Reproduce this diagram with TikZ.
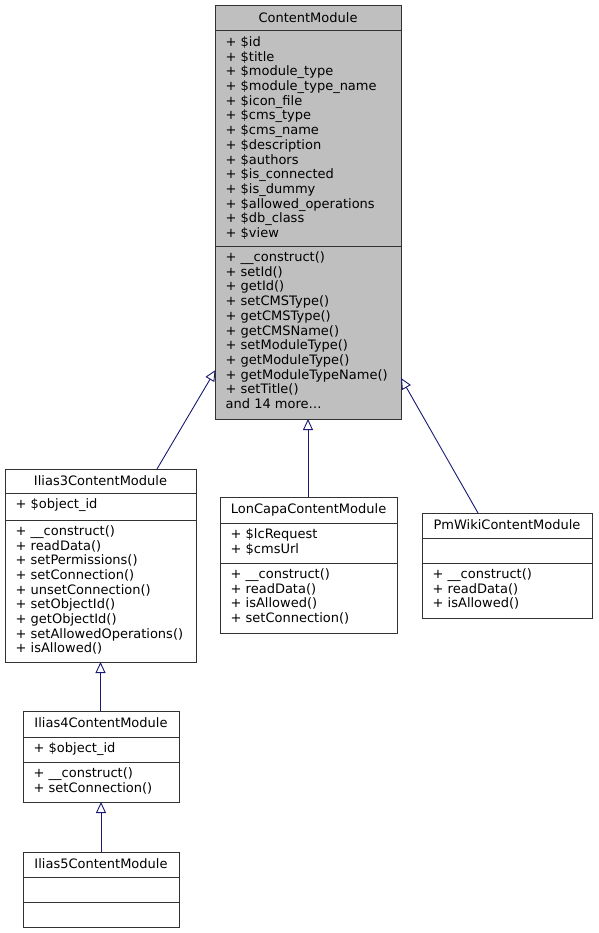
\documentclass[tikz,border=0pt]{standalone}
\usepackage{fontspec}
\setmainfont{DejaVu Sans}
\usetikzlibrary{arrows.meta,calc}
\definecolor{edgeblue}{RGB}{25,25,112}
\definecolor{boxgray}{RGB}{191,191,191}
\definecolor{boxline}{RGB}{50,50,50}
\newcommand\umlmembers[4]{%
  \foreach \t [count=\i from 0] in {#4} {\node[mem] (#1\i) at (#2,{#3+\i*14.7}) {\t};}}
\begin{document}
\begin{tikzpicture}[x=1pt,y=-1pt,
  cls/.style={draw=boxline, line width=1pt, fill=white, anchor=north west, inner sep=0pt, outer sep=0pt},
  div/.style={draw=boxline, line width=1pt},
  ttl/.style={anchor=base, inner sep=0pt, font=\fontsize{13}{14.7}\selectfont},
  mem/.style={anchor=base west, inner sep=0pt, font=\fontsize{13}{14.7}\selectfont},
  inh/.style={draw=edgeblue, line width=0.9pt, -{Triangle[open,length=11pt,width=10pt]}}]
\useasboundingbox (0,0) rectangle (598,933);

% ContentModule
\node[cls, fill=boxgray, minimum width=186pt, minimum height=413pt] (cm) at (215,6) {};
\draw[div] (cm.west |- 0,31) -- (cm.east |- 0,31);
\draw[div] (cm.west |- 0,246) -- (cm.east |- 0,246);
\node[ttl] (cmt) at (308,22.5) {ContentModule};
\umlmembers{cma}{225.5}{46.5}{+ \$id,+ \$title,+ \$module\_type,+ \$module\_type\_name,+ \$icon\_file,+ \$cms\_type,+ \$cms\_name,+ \$description,+ \$authors,+ \$is\_connected,+ \$is\_dummy,+ \$allowed\_operations,+ \$db\_class,+ \$view}
\umlmembers{cmm}{225.5}{261.5}{+ \_\_construct(),+ setId(),+ getId(),+ setCMSType(),+ getCMSType(),+ getCMSName(),+ setModuleType(),+ getModuleType(),+ getModuleTypeName(),+ setTitle(),{and 14 more\ldots}}

% Ilias3ContentModule
\node[cls, minimum width=191pt, minimum height=193pt] (il3) at (5,469) {};
\draw[div] (il3.west |- 0,493) -- (il3.east |- 0,493);
\draw[div] (il3.west |- 0,520) -- (il3.east |- 0,520);
\node[ttl] (il3t) at (100.5,485.5) {Ilias3ContentModule};
\umlmembers{il3a}{15.5}{508.5}{+ \$object\_id}
\umlmembers{il3m}{15.5}{535.3}{+ \_\_construct(),+ readData(),+ setPermissions(),+ setConnection(),+ unsetConnection(),+ setObjectId(),+ getObjectId(),+ setAllowedOperations(),+ isAllowed()}

% LonCapaContentModule
\node[cls, minimum width=177pt, minimum height=136pt] (lc) at (220,497) {};
\draw[div] (lc.west |- 0,523) -- (lc.east |- 0,523);
\draw[div] (lc.west |- 0,563) -- (lc.east |- 0,563);
\node[ttl] (lct) at (308.5,513.5) {LonCapaContentModule};
\umlmembers{lca}{230.5}{538.3}{+ \$lcRequest,+ \$cmsUrl}
\umlmembers{lcm}{230.5}{578.3}{+ \_\_construct(),+ readData(),+ isAllowed(),+ setConnection()}

% PmWikiContentModule
\node[cls, minimum width=170pt, minimum height=105pt] (pw) at (422,513) {};
\draw[div] (pw.west |- 0,538) -- (pw.east |- 0,538);
\draw[div] (pw.west |- 0,563) -- (pw.east |- 0,563);
\node[ttl] (pwt) at (507,529.5) {PmWikiContentModule};
\umlmembers{pwm}{432.5}{578.3}{+ \_\_construct(),+ readData(),+ isAllowed()}

% Ilias4ContentModule
\node[cls, minimum width=156pt, minimum height=91pt] (il4) at (23,711) {};
\draw[div] (il4.west |- 0,737) -- (il4.east |- 0,737);
\draw[div] (il4.west |- 0,762) -- (il4.east |- 0,762);
\node[ttl] (il4t) at (101,727.5) {Ilias4ContentModule};
\umlmembers{il4a}{33.5}{752.3}{+ \$object\_id}
\umlmembers{il4m}{33.5}{777.3}{+ \_\_construct(),+ setConnection()}

% Ilias5ContentModule
\node[cls, minimum width=156pt, minimum height=75pt] (il5) at (23,852) {};
\draw[div] (il5.west |- 0,877) -- (il5.east |- 0,877);
\draw[div] (il5.west |- 0,902) -- (il5.east |- 0,902);
\node[ttl] (il5t) at (101,868.5) {Ilias5ContentModule};

% inheritance connectors
\draw[inh] ($(il3.north west)+(152,0)$) -- ($(cm.north west)+(0.5,364)$);
\draw[inh] (lc.north -| cm.south) -- (cm.south);
\draw[inh] ($(pw.north west)+(56,0)$) -- ($(cm.north east)+(0,372)$);
\draw[inh] (il4.north -| il3.south) -- (il3.south);
\draw[inh] (il5.north) -- (il4.south);
\end{tikzpicture}
\end{document}
